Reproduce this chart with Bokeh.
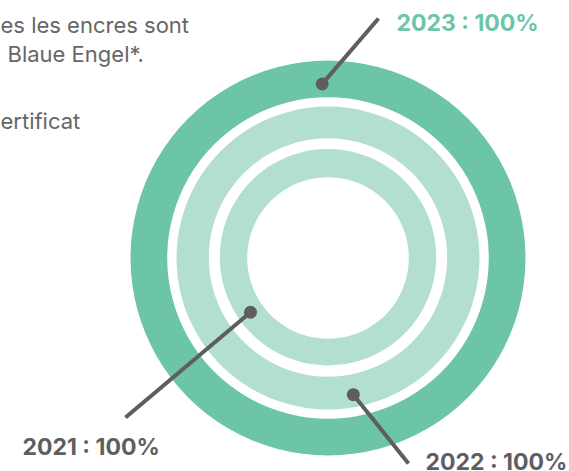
import math
from bokeh.plotting import figure
from bokeh.models import Range1d, ColumnDataSource
from bokeh.core.properties import value
from bokeh.embed import file_html
from bokeh.resources import INLINE

# ---- data ----
years = ["2021", "2022", "2023"]
shares = [100, 100, 100]          # percent certified
labels = ["2021 : 100%", "2022 : 100%", "2023 : 100%"]
ring_inner = [80.8, 119.2, 160.8]
ring_outer = [108.2, 151.5, 197.5]
ring_colors = ["#b3dfd1", "#b3dfd1", "#6cc5a8"]
dot_radius_on_ring = [94.6, 139.0, 174.2]
dot_angle_deg = [145.0, 79.5, -91.9]
leader_end_x = [125, 408, 378]
leader_end_y = [417, 463, 18]
label_x = [22, 425, 396]
label_y = [446, 461, 22]
label_colors = ["#5e5e60", "#5e5e60", "#6cc5a8"]

body_lines = ["es les encres sont", "Blaue Engel*.", "ertificat"]
body_x = [0, 7, 0]
body_y = [24, 53.5, 120.5]

W, H = 569, 471
cx, cy = 327.5, 257.5

p = figure(width=W, height=H, output_backend="svg", toolbar_location=None,
           x_range=Range1d(0, W), y_range=Range1d(H, 0),
           min_border=0, outline_line_color=None)
p.axis.visible = False
p.grid.visible = False
p.background_fill_color = "white"
p.border_fill_color = "white"

ends = [s / 100 * 2 * math.pi * 0.99999 for s in shares]
src = ColumnDataSource(dict(x=[cx] * 3, y=[cy] * 3, ri=ring_inner, ro=ring_outer,
                            start=[0.0] * 3, end=ends, color=ring_colors))
p.annular_wedge(x="x", y="y", inner_radius="ri", outer_radius="ro",
                start_angle="start", end_angle="end", color="color",
                line_color=None, source=src)

dx = [cx + r * math.cos(math.radians(a)) for r, a in zip(dot_radius_on_ring, dot_angle_deg)]
dy = [cy + r * math.sin(math.radians(a)) for r, a in zip(dot_radius_on_ring, dot_angle_deg)]
p.segment(x0=dx, y0=dy, x1=leader_end_x, y1=leader_end_y,
          line_color="#5e5e60", line_width=4)
p.scatter(x=dx, y=dy, size=13, color="#5e5e60", line_color=None)

p.text(x=label_x, y=label_y, text=labels, text_color=label_colors,
       text_font=value("Inter"), text_font_style="bold", text_font_size="23px",
       text_baseline="alphabetic", text_align="left")

p.text(x=body_x, y=body_y, text=body_lines, text_color="#666666",
       text_font=value("Inter"), text_font_size="22px",
       text_baseline="alphabetic", text_align="left")

open("out.html", "w").write(file_html(p, INLINE))
